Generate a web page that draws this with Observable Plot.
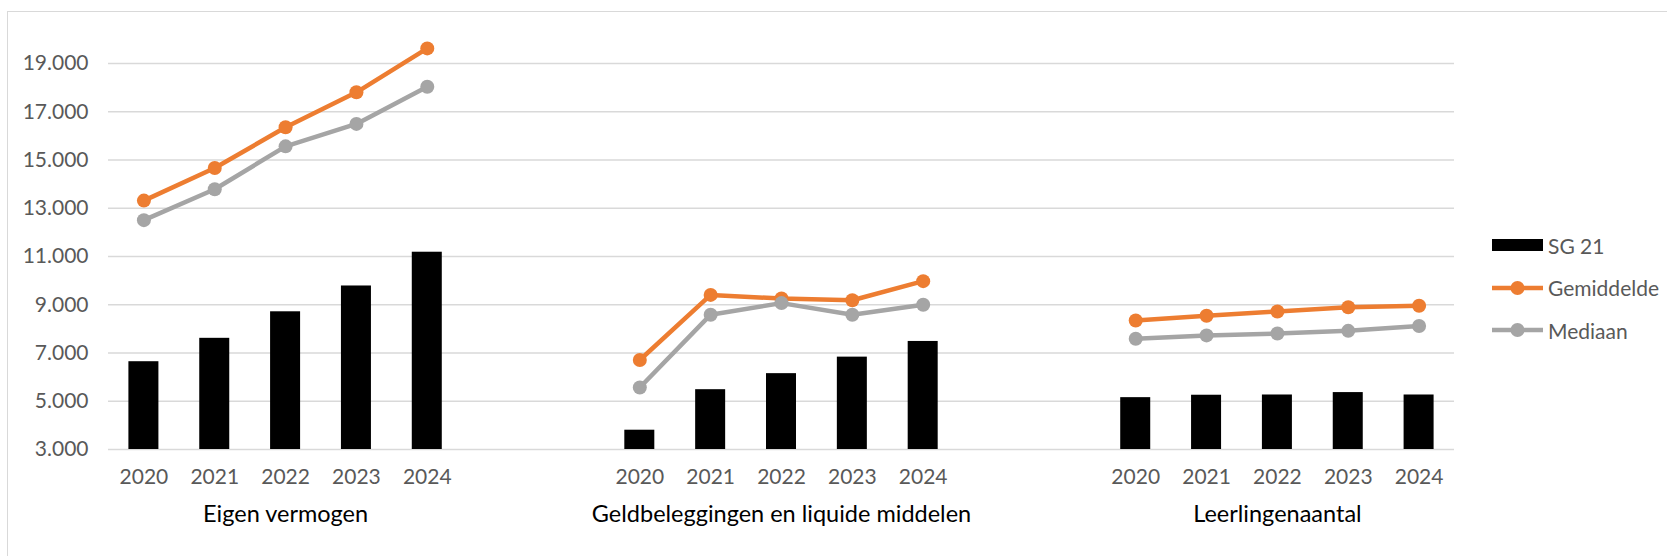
<!DOCTYPE html>
<html>
<head>
<meta charset="utf-8">
<script src="https://cdn.jsdelivr.net/npm/d3@7"></script>
<script src="https://cdn.jsdelivr.net/npm/@observablehq/plot@0.6"></script>
<style>
  body { margin: 0; background: #fff; }
  #wrap { position: relative; width: 1667px; height: 556px; overflow: hidden; font-family: Lato, "Open Sans", sans-serif; }
  #frame { position: absolute; left: 7px; top: 11px; width: 1700px; height: 600px; border-left: 1.3px solid #d9d9d9; border-top: 1.3px solid #d9d9d9; }
  #chart { position: absolute; left: 0; top: 0; }
  .item { position: absolute; left: 1492px; height: 30px; display: flex; align-items: center; font-size: 21px; color: #595959; white-space: nowrap; }
  .item svg { margin-right: 5px; }
</style>
</head>
<body>
<div id="wrap">
  <div id="frame"></div>
  <div id="chart"></div>
  <div id="legend"></div>
</div>
<script>
const groups = ["Eigen vermogen", "Geldbeleggingen en liquide middelen", "Leerlingenaantal"];
const years = ["2020", "2021", "2022", "2023", "2024"];
const sg21 = [
  [6640, 7610, 8710, 9780, 11180],
  [3800, 5480, 6145, 6830, 7480],
  [5150, 5250, 5260, 5360, 5260]
];
const gemiddelde = [
  [13320, 14670, 16360, 17810, 19630],
  [6710, 9410, 9260, 9190, 9980],
  [8350, 8545, 8720, 8900, 8960]
];
const mediaan = [
  [12510, 13790, 15570, 16500, 18040],
  [5570, 8590, 9070, 8590, 9000],
  [7590, 7730, 7810, 7920, 8120]
];
const yTicks = [3000, 5000, 7000, 9000, 11000, 13000, 15000, 17000, 19000];
const seriesNames = ["SG 21", "Gemiddelde", "Mediaan"];
const seriesColors = ["#000000", "#ED7D31", "#A5A5A5"];

const keyOf = (g, y) => g + "|" + y;
const domain = [];
groups.forEach((g, gi) => {
  years.forEach(y => domain.push(keyOf(g, y)));
  if (gi < groups.length - 1) { domain.push("gap" + gi + "a"); domain.push("gap" + gi + "b"); }
});
const rows = (arr, series) => groups.flatMap((g, gi) =>
  years.map((y, yi) => ({group: g, year: y, key: keyOf(g, y), value: arr[gi][yi], series})));
const barData = rows(sg21, seriesNames[0]);
const gemData = rows(gemiddelde, seriesNames[1]);
const medData = rows(mediaan, seriesNames[2]);
const labelData = groups.map(g => ({group: g, key: keyOf(g, years[2])}));

const nl = d3.formatLocale({decimal: ",", thousands: ".", grouping: [3], currency: ["€ ", ""]});
const fmt = nl.format(",.0f");
const font = "Lato, 'Open Sans', sans-serif";

const chart = Plot.plot({
  width: 1667,
  height: 556,
  marginLeft: 108,
  marginRight: 213,
  marginTop: 39,
  marginBottom: 107,
  style: {fontFamily: font, fontSize: "21px", color: "#595959", background: "transparent", overflow: "visible"},
  x: {type: "band", domain, paddingInner: 0.5765, paddingOuter: 0.288, align: 0.5, round: false, axis: null, label: null},
  y: {domain: [3000, 20000], axis: null, label: null},
  marks: [
    Plot.ruleY(yTicks, {stroke: "#d9d9d9", strokeWidth: 1.5}),
    Plot.barY(barData, {x: "key", y1: 3000, y2: "value", fill: seriesColors[0]}),
    Plot.line(gemData, {x: "key", y: "value", z: "group", stroke: seriesColors[1], strokeWidth: 4.5}),
    Plot.dot(gemData, {x: "key", y: "value", r: 7, fill: seriesColors[1]}),
    Plot.line(medData, {x: "key", y: "value", z: "group", stroke: seriesColors[2], strokeWidth: 4.5}),
    Plot.dot(medData, {x: "key", y: "value", r: 7, fill: seriesColors[2]}),
    Plot.axisY(yTicks, {tickSize: 0, tickPadding: 20, tickFormat: fmt, fill: "#595959", fontSize: 21, label: null}),
    Plot.axisX(domain.filter(k => !k.startsWith("gap")), {tickSize: 0, tickPadding: 20, tickFormat: k => k.split("|")[1], fill: "#595959", fontSize: 21, label: null}),
    Plot.text(labelData, {x: "key", text: "group", frameAnchor: "bottom", dy: 72, fill: "#000", fontSize: 23.5})
  ]
});
document.getElementById("chart").appendChild(chart);

// legend
const legend = document.getElementById("legend");
seriesNames.forEach((name, i) => {
  const item = document.createElement("div");
  item.className = "item";
  item.style.top = (245 + i * 42.7 - 15) + "px";
  const sw = i === 0
    ? `<svg width="51" height="16"><rect x="0" y="2" width="51" height="12" fill="${seriesColors[i]}"/></svg>`
    : `<svg width="51" height="16"><line x1="0" x2="51" y1="8" y2="8" stroke="${seriesColors[i]}" stroke-width="4.5"/><circle cx="25.5" cy="8" r="7" fill="${seriesColors[i]}"/></svg>`;
  item.innerHTML = sw + `<span>${name}</span>`;
  legend.appendChild(item);
});
</script>
</body>
</html>
